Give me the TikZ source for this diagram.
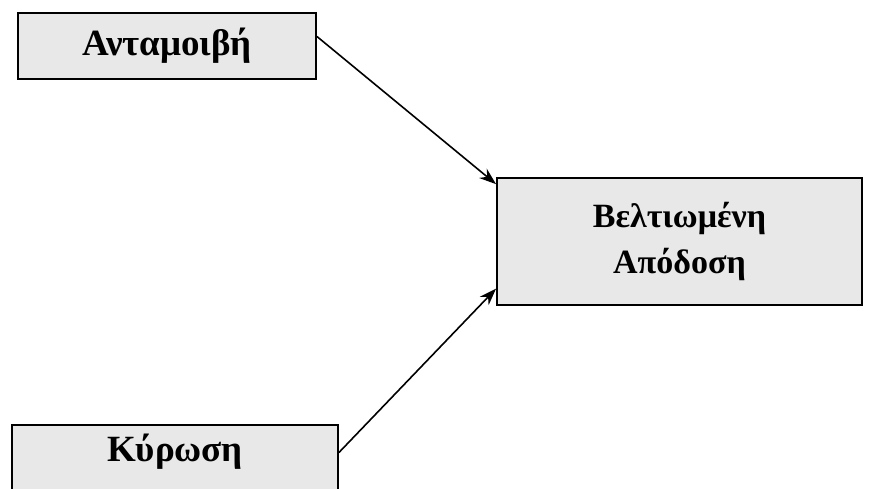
\documentclass[tikz,border=0pt]{standalone}
\usepackage{fontspec}
\setmainfont{Liberation Serif}
\usetikzlibrary{arrows.meta,calc}
\definecolor{boxfill}{rgb}{0.91,0.91,0.91}
\tikzset{
  box/.style={draw=black, line width=1.9pt, fill=boxfill, inner sep=0pt, font=\bfseries\fontsize{37}{46}\selectfont, align=center},
  conn/.style={line width=1.6pt, -{Stealth[length=17pt,width=12pt]}}
}
\begin{document}
\begin{tikzpicture}[x=1pt,y=-1pt]
\useasboundingbox (0,0) rectangle (873,488);
\clip (0,0) rectangle (873,488);
\fill[white] (0,0) rectangle (873,488);
\node[box, minimum width=298pt, minimum height=66pt] (a) at (167,46) {Ανταμοιβή};
\node[box, minimum width=365pt, minimum height=127pt, font=\bfseries\fontsize{34}{46}\selectfont] (b) at (679.5,241.5) {Βελτιωμένη\\Απόδοση};
\node[box, minimum width=326pt, minimum height=90pt, anchor=north] (c) at (175,424) {\raisebox{45pt}{Κύρωση}};
\draw[conn] ($(a.north east)!0.36!(a.south east)$) -- ($(b.north west)!0.055!(b.south west)$);
\draw[conn] ($(c.north east)!0.31!(c.south east)$) -- ($(b.north west)!0.866!(b.south west)$);
\end{tikzpicture}
\end{document}
